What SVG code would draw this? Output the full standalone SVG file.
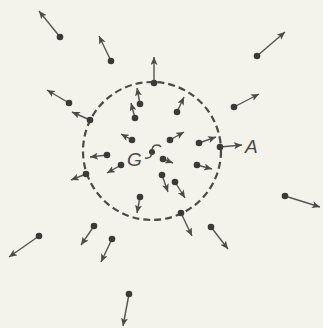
<svg xmlns="http://www.w3.org/2000/svg" width="323" height="328" viewBox="0 0 323 328">
<defs>
<marker id="ah" markerUnits="userSpaceOnUse" markerWidth="9" markerHeight="7" refX="8" refY="3.5" orient="auto">
<path d="M0,0 L8,3.5 L0,7 L2,3.5 Z" fill="#4a4a46"/>
</marker>
</defs>
<style>
.v{stroke:#555552;stroke-width:1.4;fill:none;marker-end:url(#ah)}
.d{fill:#3a3a37}
.lbl{font-family:"Liberation Sans",Arial,sans-serif;font-style:italic;font-size:19px;fill:#4a4a46}
.bd{fill:none;stroke:#4a4a46;stroke-width:2.2;stroke-dasharray:7 4}
</style>
<rect width="323" height="328" fill="#f3f3ec"/>
<g id="boundary"><circle class="bd" cx="152" cy="151" r="69"/></g>
<g id="connectors">
<line class="v" x1="60" y1="37" x2="39" y2="11"/>
<line class="v" x1="111" y1="61" x2="99" y2="36"/>
<line class="v" x1="154" y1="83" x2="154" y2="57"/>
<line class="v" x1="69" y1="103" x2="47" y2="90"/>
<line class="v" x1="140" y1="104" x2="137" y2="88"/>
<line class="v" x1="135" y1="118" x2="131" y2="103"/>
<line class="v" x1="257" y1="56" x2="285" y2="32"/>
<line class="v" x1="234" y1="107" x2="259" y2="94"/>
<line class="v" x1="177" y1="112" x2="184" y2="97"/>
<line class="v" x1="90" y1="120" x2="72" y2="112"/>
<line class="v" x1="132" y1="140" x2="121" y2="134"/>
<line class="v" x1="107" y1="155" x2="90" y2="157"/>
<line class="v" x1="121" y1="165" x2="107" y2="173"/>
<line class="v" x1="86" y1="174" x2="71" y2="180"/>
<line class="v" x1="170" y1="140" x2="184" y2="132"/>
<line class="v" x1="199" y1="143" x2="216" y2="137"/>
<line class="v" x1="220" y1="147" x2="242" y2="145"/>
<line class="v" x1="163" y1="159" x2="173" y2="163"/>
<line class="v" x1="197" y1="165" x2="212" y2="169"/>
<line class="v" x1="162" y1="175" x2="168" y2="192"/>
<line class="v" x1="175" y1="182" x2="185" y2="198"/>
<line class="v" x1="140" y1="197" x2="137" y2="213"/>
<line class="v" x1="181" y1="213" x2="192" y2="236"/>
<line class="v" x1="211" y1="227" x2="228" y2="249"/>
<line class="v" x1="285" y1="196" x2="320" y2="207"/>
<line class="v" x1="39" y1="236" x2="9" y2="257"/>
<line class="v" x1="94" y1="226" x2="81" y2="245"/>
<line class="v" x1="112" y1="239" x2="101" y2="262"/>
<line class="v" x1="129" y1="294" x2="123" y2="326"/>
</g>
<g id="particles">
<circle class="d" cx="60" cy="37" r="3.3"/>
<circle class="d" cx="111" cy="61" r="3.3"/>
<circle class="d" cx="154" cy="83" r="3.3"/>
<circle class="d" cx="69" cy="103" r="3.3"/>
<circle class="d" cx="140" cy="104" r="3.3"/>
<circle class="d" cx="135" cy="118" r="3.3"/>
<circle class="d" cx="257" cy="56" r="3.3"/>
<circle class="d" cx="234" cy="107" r="3.3"/>
<circle class="d" cx="177" cy="112" r="3.3"/>
<circle class="d" cx="90" cy="120" r="3.3"/>
<circle class="d" cx="132" cy="140" r="3.3"/>
<circle class="d" cx="107" cy="155" r="3.3"/>
<circle class="d" cx="121" cy="165" r="3.3"/>
<circle class="d" cx="86" cy="174" r="3.3"/>
<circle class="d" cx="170" cy="140" r="3.3"/>
<circle class="d" cx="199" cy="143" r="3.3"/>
<circle class="d" cx="220" cy="147" r="3.3"/>
<circle class="d" cx="163" cy="159" r="3.3"/>
<circle class="d" cx="197" cy="165" r="3.3"/>
<circle class="d" cx="162" cy="175" r="3.3"/>
<circle class="d" cx="175" cy="182" r="3.3"/>
<circle class="d" cx="140" cy="197" r="3.3"/>
<circle class="d" cx="181" cy="213" r="3.3"/>
<circle class="d" cx="211" cy="227" r="3.3"/>
<circle class="d" cx="285" cy="196" r="3.3"/>
<circle class="d" cx="39" cy="236" r="3.3"/>
<circle class="d" cx="94" cy="226" r="3.3"/>
<circle class="d" cx="112" cy="239" r="3.3"/>
<circle class="d" cx="129" cy="294" r="3.3"/>
</g>
<g id="G">
<text class="lbl" x="127" y="166">G</text>
<circle class="d" cx="152" cy="152" r="3"/>
<path d="M145,158 Q151,159 152,153 M152,151 Q152,145 157,145 Q160,145 161,147" fill="none" stroke="#4a4a46" stroke-width="1.5"/>
</g>
<g id="A"><text class="lbl" x="245" y="153">A</text></g>
</svg>
